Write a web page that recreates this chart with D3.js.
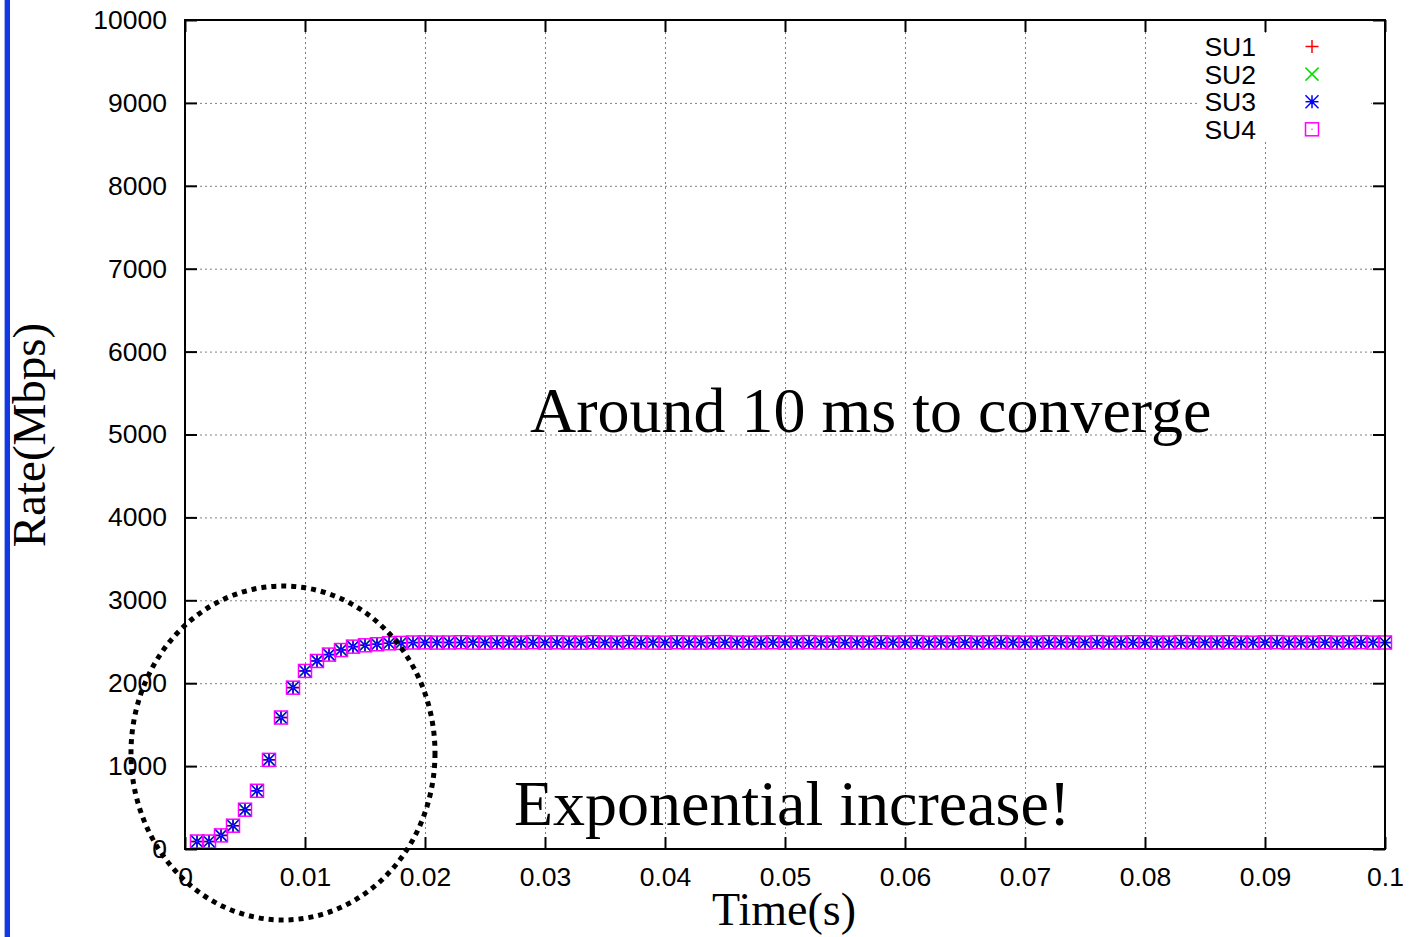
<!DOCTYPE html>
<html>
<head>
<meta charset="utf-8">
<script src="https://cdn.jsdelivr.net/npm/d3@7"></script>
<style>
  html, body { margin: 0; padding: 0; background: #fff; }
  svg { display: block; }
</style>
</head>
<body>
<svg id="chart" width="1409" height="937"></svg>
<script>
// Sending-rate samples every 1 ms, t = 0.001 .. 0.100 s
const times = d3.range(1, 101).map(k => k / 1000);

const su1 = [
  90, 90, 164, 281, 473, 702, 1076, 1586, 1947, 2148,
  2269, 2345, 2401, 2441, 2458, 2470, 2482, 2486, 2490, 2492,
  2494, 2490, 2492, 2495, 2491, 2489, 2493, 2496, 2490, 2492,
  2494, 2491, 2490, 2495, 2492, 2489, 2493, 2490, 2494, 2491,
  2492, 2495, 2490, 2489, 2493, 2491, 2494, 2490, 2492, 2496,
  2491, 2490, 2493, 2494, 2489, 2492, 2495, 2490, 2491, 2493,
  2490, 2494, 2492, 2489, 2495, 2491, 2490, 2493, 2492, 2494,
  2489, 2491, 2495, 2490, 2492, 2493, 2490, 2494, 2491, 2489,
  2492, 2495, 2490, 2491, 2494, 2492, 2489, 2493, 2490, 2495,
  2491, 2492, 2490, 2494, 2493, 2489, 2491, 2495, 2492, 2490
];
const su2 = [
  90, 90, 165, 282, 472, 703, 1077, 1585, 1948, 2147,
  2270, 2344, 2402, 2440, 2459, 2471, 2481, 2487, 2489, 2493,
  2492, 2494, 2490, 2491, 2495, 2490, 2492, 2489, 2494, 2491,
  2490, 2493, 2495, 2491, 2490, 2494, 2492, 2491, 2489, 2495,
  2493, 2490, 2492, 2494, 2490, 2495, 2491, 2492, 2490, 2493,
  2494, 2492, 2489, 2491, 2495, 2490, 2492, 2494, 2493, 2490,
  2492, 2490, 2495, 2491, 2490, 2493, 2494, 2489, 2492, 2491,
  2495, 2490, 2491, 2494, 2490, 2492, 2495, 2489, 2493, 2492,
  2490, 2491, 2494, 2495, 2490, 2489, 2493, 2491, 2494, 2492,
  2490, 2495, 2492, 2490, 2491, 2494, 2493, 2490, 2492, 2491
];
const su3 = [
  90, 90, 164, 281, 473, 702, 1076, 1586, 1947, 2148,
  2269, 2345, 2401, 2441, 2458, 2470, 2482, 2486, 2490, 2492,
  2491, 2492, 2491, 2493, 2492, 2491, 2492, 2493, 2491, 2492,
  2492, 2491, 2492, 2493, 2491, 2492, 2492, 2491, 2493, 2492,
  2491, 2492, 2492, 2491, 2493, 2492, 2491, 2492, 2493, 2491,
  2492, 2491, 2492, 2493, 2491, 2492, 2492, 2491, 2493, 2492,
  2491, 2492, 2493, 2491, 2492, 2492, 2491, 2493, 2492, 2491,
  2492, 2493, 2491, 2492, 2492, 2491, 2493, 2492, 2491, 2492,
  2493, 2491, 2492, 2492, 2491, 2493, 2492, 2491, 2492, 2493,
  2491, 2492, 2492, 2491, 2493, 2492, 2491, 2492, 2493, 2491
];
const su4 = [
  90, 90, 164, 281, 474, 702, 1075, 1586, 1946, 2148,
  2268, 2345, 2400, 2441, 2457, 2470, 2481, 2486, 2491, 2492,
  2490, 2491, 2494, 2490, 2489, 2493, 2491, 2490, 2495, 2490,
  2493, 2490, 2489, 2494, 2491, 2490, 2495, 2492, 2490, 2489,
  2494, 2491, 2490, 2493, 2495, 2490, 2489, 2491, 2494, 2490,
  2492, 2495, 2490, 2489, 2493, 2491, 2490, 2494, 2490, 2492,
  2495, 2489, 2491, 2490, 2494, 2490, 2492, 2495, 2491, 2489,
  2490, 2494, 2492, 2491, 2489, 2495, 2490, 2491, 2494, 2493,
  2489, 2490, 2495, 2492, 2490, 2491, 2494, 2490, 2489, 2493,
  2495, 2490, 2491, 2489, 2494, 2490, 2492, 2495, 2490, 2491
];

const seriesNames = ["SU1", "SU2", "SU3", "SU4"];
const seriesValues = [su1, su2, su3, su4];
const seriesColors = ["#ff0000", "#00e000", "#0000ff", "#ff00ff"];
const seriesSymbols = ["plus", "cross", "star", "box"];

const xTickValues = [0, 0.01, 0.02, 0.03, 0.04, 0.05, 0.06, 0.07, 0.08, 0.09, 0.1];
const xTickLabels = ["0", "0.01", "0.02", "0.03", "0.04", "0.05", "0.06", "0.07", "0.08", "0.09", "0.1"];
const yTickValues = [0, 1000, 2000, 3000, 4000, 5000, 6000, 7000, 8000, 9000, 10000];
const yTickLabels = ["0", "1000", "2000", "3000", "4000", "5000", "6000", "7000", "8000", "9000", "10000"];

const xTitle = "Time(s)";
const yTitle = "Rate(Mbps)";
const noteTop = "Around 10 ms to converge";
const noteBottom = "Exponential increase!";

// ---------------------------------------------------------------
const svg = d3.select("#chart");
const W = 1409, H = 937;
const plot = { left: 185, right: 1385, top: 20, bottom: 849 };
const SANS = "'Liberation Sans', Arial, Helvetica, sans-serif";
const SERIF = "'Liberation Serif', 'Times New Roman', Times, serif";
const TICK_FONT = 26.5;

svg.append("rect").attr("width", W).attr("height", H).attr("fill", "#fff");

// slide edge stripe
svg.append("rect").attr("x", 4).attr("y", 0).attr("width", 1).attr("height", H).attr("fill", "#9fb2f2");
svg.append("rect").attr("x", 5).attr("y", 0).attr("width", 5).attr("height", H).attr("fill", "#1238e4");

const x = d3.scaleLinear().domain([0, 0.1]).range([plot.left, plot.right]);
const y = d3.scaleLinear().domain([0, 10000]).range([plot.bottom, plot.top]);
const pw = plot.right - plot.left, ph = plot.bottom - plot.top;

// dotted grid
const grid = svg.append("g").attr("class", "grid");
grid.append("g")
  .attr("transform", `translate(0,${plot.bottom})`)
  .call(d3.axisBottom(x).tickValues(xTickValues.slice(1, -1)).tickSize(-ph).tickFormat(""))
  .call(g => g.select(".domain").remove());
grid.append("g")
  .attr("transform", `translate(${plot.left},0)`)
  .call(d3.axisLeft(y).tickValues(yTickValues.slice(1, -1)).tickSize(-pw).tickFormat(""))
  .call(g => g.select(".domain").remove());
grid.selectAll("line")
  .attr("stroke", "#808080").attr("stroke-width", 1).attr("stroke-dasharray", "2,3");

// marker shapes
function drawSymbol(g, kind, color) {
  const s = 6.5;
  const line = (x1, y1, x2, y2) => g.append("line")
    .attr("x1", x1).attr("y1", y1).attr("x2", x2).attr("y2", y2)
    .attr("stroke", color).attr("stroke-width", 1.5);
  if (kind === "plus" || kind === "star") { line(-s, 0, s, 0); line(0, -s, 0, s); }
  if (kind === "cross" || kind === "star") { line(-s, -s, s, s); line(-s, s, s, -s); }
  if (kind === "star") g.append("circle").attr("r", 2.2).attr("fill", color);
  if (kind === "box") {
    g.append("rect").attr("x", -s).attr("y", -s).attr("width", 2 * s).attr("height", 2 * s)
      .attr("fill", "none").attr("stroke", color).attr("stroke-width", 1.5);
    g.append("rect").attr("x", -0.6).attr("y", -0.6).attr("width", 1.2).attr("height", 1.2).attr("fill", color);
  }
}

// data points
seriesValues.forEach((vals, i) => {
  const gs = svg.append("g").attr("class", "series-" + seriesNames[i]);
  gs.selectAll("g.pt").data(vals).join("g")
    .attr("class", "pt")
    .attr("transform", (d, k) => `translate(${x(times[k])},${y(d)})`)
    .each(function () { drawSymbol(d3.select(this), seriesSymbols[i], seriesColors[i]); });
});

// key (blanked background)
svg.append("rect").attr("x", 1199).attr("y", 33).attr("width", 172).attr("height", 109).attr("fill", "#fff");
const key = svg.append("g").attr("class", "key");
seriesNames.forEach((name, i) => {
  const cy = 46.5 + i * 27.6;
  key.append("text").attr("x", 1256).attr("y", cy).attr("dy", "0.36em")
    .attr("text-anchor", "end").attr("font-family", SANS).attr("font-size", TICK_FONT)
    .attr("fill", "#000").text(name);
  drawSymbol(key.append("g").attr("transform", `translate(1312,${cy})`), seriesSymbols[i], seriesColors[i]);
});

// frame with inward ticks on all four sides
const axes = svg.append("g").attr("class", "axes");
const styleAxis = g => {
  g.select(".domain").remove();
  g.selectAll(".tick line").attr("stroke", "#000").attr("stroke-width", 2);
  g.selectAll(".tick text").attr("font-family", SANS).attr("font-size", TICK_FONT).attr("fill", "#000");
};
axes.append("g").attr("transform", `translate(0,${plot.bottom})`)
  .call(d3.axisBottom(x).tickValues(xTickValues).tickSize(-12).tickPadding(18)
    .tickFormat((d, i) => xTickLabels[i]))
  .call(styleAxis);
axes.append("g").attr("transform", `translate(0,${plot.top})`)
  .call(d3.axisTop(x).tickValues(xTickValues).tickSize(-12).tickFormat(""))
  .call(styleAxis);
axes.append("g").attr("transform", `translate(${plot.left},0)`)
  .call(d3.axisLeft(y).tickValues(yTickValues).tickSize(-12).tickPadding(18)
    .tickFormat((d, i) => yTickLabels[i]))
  .call(styleAxis);
axes.append("g").attr("transform", `translate(${plot.right},0)`)
  .call(d3.axisRight(y).tickValues(yTickValues).tickSize(-12).tickFormat(""))
  .call(styleAxis);
axes.append("rect").attr("x", plot.left).attr("y", plot.top).attr("width", pw).attr("height", ph)
  .attr("fill", "none").attr("stroke", "#000").attr("stroke-width", 2);

// axis titles
svg.append("text").attr("x", 784).attr("y", 925).attr("text-anchor", "middle")
  .attr("font-family", SERIF).attr("font-size", 46).attr("fill", "#000").text(xTitle);
svg.append("text").attr("transform", "translate(45,435) rotate(-90)").attr("text-anchor", "middle")
  .attr("font-family", SERIF).attr("font-size", 47).attr("fill", "#000").text(yTitle);

// annotations
svg.append("text").attr("x", 530).attr("y", 432)
  .attr("font-family", SERIF).attr("font-size", 64).attr("fill", "#000").text(noteTop);
svg.append("text").attr("x", 514).attr("y", 825)
  .attr("font-family", SERIF).attr("font-size", 64).attr("fill", "#000").text(noteBottom);

// dotted ellipse around the ramp-up phase
svg.append("ellipse").attr("cx", 283).attr("cy", 753).attr("rx", 152).attr("ry", 167)
  .attr("fill", "none").attr("stroke", "#000").attr("stroke-width", 5)
  .attr("stroke-dasharray", "5,5");
</script>
</body>
</html>
